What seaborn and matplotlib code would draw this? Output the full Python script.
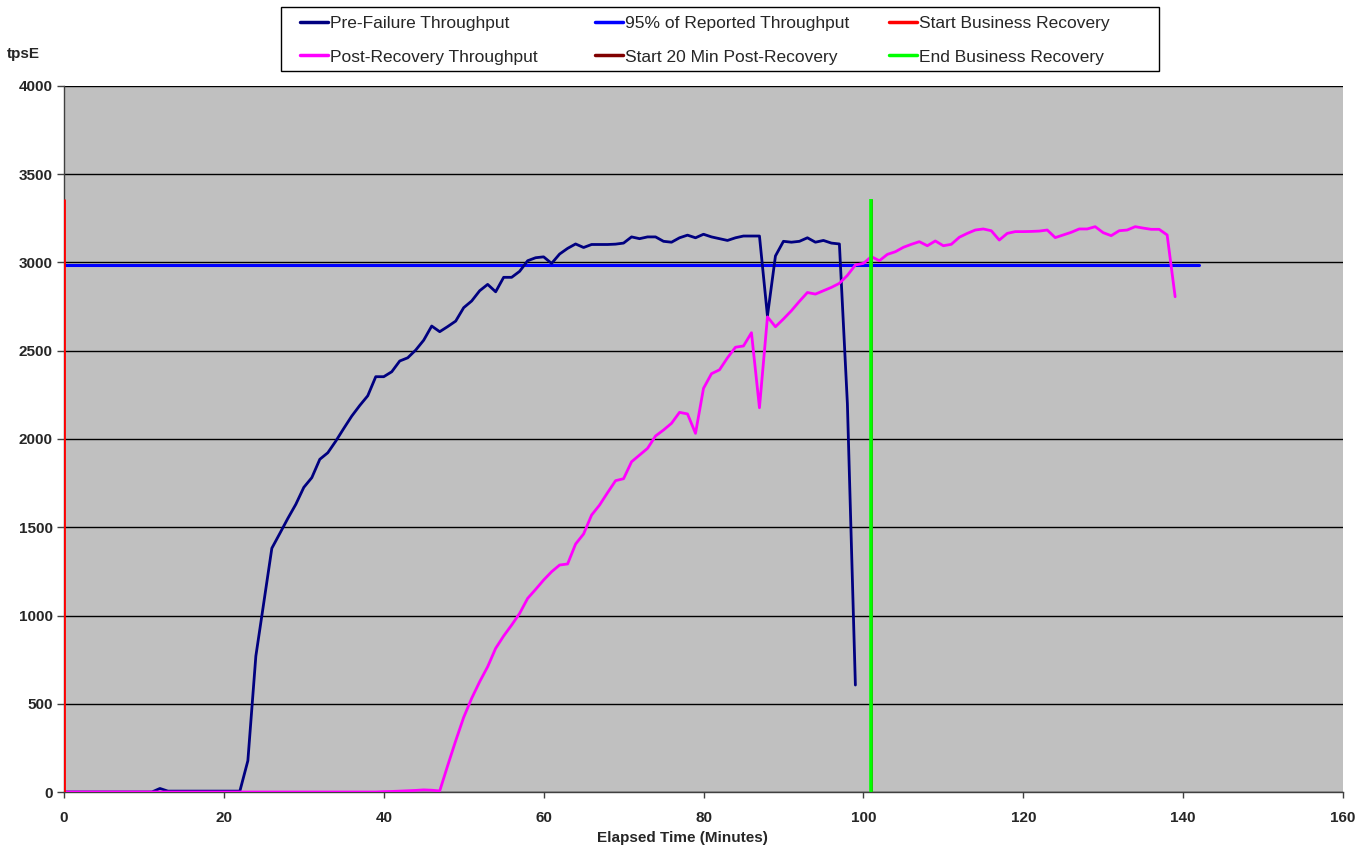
import numpy as np
import pandas as pd
import matplotlib
matplotlib.use("Agg")
import matplotlib.pyplot as plt
from matplotlib.lines import Line2D
from matplotlib.patches import Rectangle
import seaborn as sns

# ---- data ----
pre_minutes = list(range(0, 100))
pre_tps = [0]*12 + [20, 5, 5, 5, 5, 5, 5, 5, 5, 5,          # 0..21
           5, 177, 770, 1075, 1381, 1465, 1550, 1630, 1726, 1781,   # 22..31
           1885, 1922, 1988, 2060, 2130, 2190, 2245, 2353, 2353, 2381,  # 32..41
           2442, 2460, 2504, 2560, 2640, 2608, 2637, 2668, 2744, 2782,  # 42..51
           2840, 2876, 2834, 2916, 2916, 2950, 3010, 3027, 3032, 2995,  # 52..61
           3048, 3080, 3105, 3085, 3102, 3102, 3102, 3104, 3110, 3145,  # 62..71
           3135, 3145, 3145, 3120, 3115, 3140, 3155, 3140, 3160, 3145,  # 72..81
           3135, 3125, 3140, 3150, 3150, 3150, 2697, 3037, 3120, 3115,  # 82..91
           3120, 3140, 3115, 3125, 3110, 3105, 2200, 606]               # 92..99

post_minutes = list(range(0, 140))
post_tps = [0]*40 + [2, 3, 5, 7, 9, 12, 10, 6,                        # 40..47
            150, 290, 423, 531, 625, 710, 814, 884, 946, 1012,         # 48..57
            1097, 1148, 1201, 1248, 1286, 1292, 1405, 1462, 1569, 1626, # 58..67
            1696, 1764, 1775, 1871, 1909, 1947, 2017, 2051, 2089, 2151, # 68..77
            2142, 2032, 2287, 2370, 2392, 2460, 2520, 2527, 2602, 2177, # 78..87
            2692, 2636, 2680, 2727, 2780, 2830, 2821, 2840, 2859, 2882, # 88..97
            2927, 2986, 2995, 3033, 3010, 3046, 3061, 3086, 3103, 3118, # 98..107
            3095, 3122, 3095, 3103, 3143, 3165, 3184, 3190, 3180, 3127, # 108..117
            3165, 3175, 3175, 3176, 3178, 3184, 3141, 3156, 3171, 3190, # 118..127
            3190, 3203, 3169, 3152, 3180, 3184, 3203, 3195, 3188, 3188, # 128..137
            3156, 2806]                                                 # 138..139

reported_95_x = [0, 142]
reported_95_y = [2985, 2985]

start_recovery_x = [0]
start_20min_x = [101]
end_recovery_x = [101]
marker_line_top = 3360

x_ticks = [0, 20, 40, 60, 80, 100, 120, 140, 160]
y_ticks = [0, 500, 1000, 1500, 2000, 2500, 3000, 3500, 4000]

# ---- build frame ----
df = pd.concat([
    pd.DataFrame({"minute": pre_minutes, "tps": pre_tps, "series": "Pre-Failure Throughput"}),
    pd.DataFrame({"minute": post_minutes, "tps": post_tps, "series": "Post-Recovery Throughput"}),
    pd.DataFrame({"minute": reported_95_x, "tps": reported_95_y, "series": "95% of Reported Throughput"}),
], ignore_index=True)

sns.set_theme(style="white")
plt.rcParams["font.family"] = ["Liberation Sans", "DejaVu Sans"]

W, H = 1369, 846
fig = plt.figure(figsize=(W/100, H/100), dpi=100)
ax = fig.add_axes([64/W, 54/H, (1343-64)/W, (792-86)/H])
ax.set_facecolor("#C0C0C0")

ax.set_yticks(y_ticks)
ax.yaxis.grid(True, color="#000000", linewidth=1.0)
ax.set_axisbelow(True)

palette = {"Pre-Failure Throughput": "#000080",
           "Post-Recovery Throughput": "#FF00FF",
           "95% of Reported Throughput": "#0000FF"}

sns.lineplot(data=df[df.series == "95% of Reported Throughput"], x="minute", y="tps",
             hue="series", palette=palette, linewidth=2.2, ax=ax, legend=False, zorder=3)
sns.lineplot(data=df[df.series == "Pre-Failure Throughput"], x="minute", y="tps",
             hue="series", palette=palette, linewidth=2.0, ax=ax, legend=False, zorder=4)
sns.lineplot(data=df[df.series == "Post-Recovery Throughput"], x="minute", y="tps",
             hue="series", palette=palette, linewidth=2.0, ax=ax, legend=False, zorder=5)

ax.vlines(start_recovery_x, 0, marker_line_top, color="#FF0000", linewidth=2.0, zorder=6)
ax.vlines(start_20min_x, 0, marker_line_top, color="#800000", linewidth=2.0, zorder=6)
ax.vlines(end_recovery_x, 0, marker_line_top, color="#00FF00", linewidth=2.6, zorder=7)

ax.set_xlim(0, 160)
ax.set_ylim(0, 4000)
ax.set_xticks(x_ticks)
ax.set_xticklabels([str(v) for v in x_ticks], fontsize=11, fontweight="bold")
ax.set_yticklabels([str(v) for v in y_ticks], fontsize=11, fontweight="bold")
ax.tick_params(axis="x", direction="out", length=4, width=1, color="#404040",
               bottom=True, pad=10)
ax.tick_params(axis="y", direction="out", length=5, width=1, color="#404040",
               left=True, pad=3)
ax.set_xlabel("Elapsed Time (Minutes)", fontsize=11, fontweight="bold")
ax.xaxis.set_label_coords((682-64)/1279, -(838-792)/706, transform=ax.transAxes)
ax.xaxis.label.set_va("center")
ax.set_ylabel("")
for s in ["top", "right"]:
    ax.spines[s].set_visible(False)
for s in ["left", "bottom"]:
    ax.spines[s].set_color("#404040")
    ax.spines[s].set_linewidth(1.0)

fig.text(7/W, 1 - 54/H, "tpsE", fontsize=11, fontweight="bold", ha="left", va="center")

# ---- legend: box with three equal columns ----
fig.patches.append(Rectangle((281/W, 1 - 71/H), (1159-281)/W, (71-7)/H,
                             transform=fig.transFigure, facecolor="white",
                             edgecolor="#000000", linewidth=1.0, zorder=1))
columns = [
    (300, [("#000080", "Pre-Failure Throughput"), ("#FF00FF", "Post-Recovery Throughput")]),
    (595, [("#0000FF", "95% of Reported Throughput"), ("#800000", "Start 20 Min Post-Recovery")]),
    (889, [("#FF0000", "Start Business Recovery"), ("#00FF00", "End Business Recovery")]),
]
for x0, items in columns:
    hs = [Line2D([], [], color=c, lw=2.5) for c, _ in items]
    ls = [t for _, t in items]
    lg = fig.legend(hs, ls, loc="upper left", bbox_to_anchor=(x0/W, 1 - 16/H),
                    frameon=False, fontsize=12.5, handlelength=1.6,
                    handletextpad=0.15, labelspacing=1.05, borderpad=0,
                    borderaxespad=0)
    lg.set_zorder(2)

fig.savefig("out.png", dpi=100, facecolor="white")
